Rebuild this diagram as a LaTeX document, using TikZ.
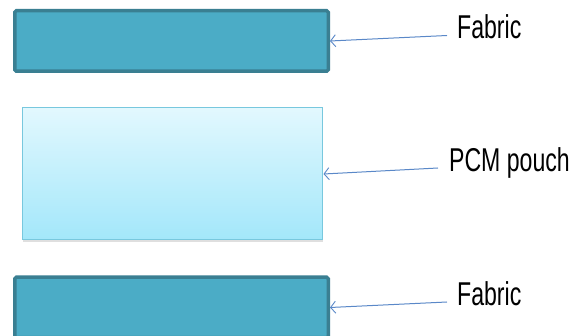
\documentclass[tikz,border=0pt]{standalone}
\usepackage{fontspec}
\setmainfont{Liberation Sans}
\usetikzlibrary{arrows.meta,shadows}
\definecolor{fabfill}{HTML}{4BACC6}
\definecolor{fabline}{HTML}{3A7F92}
\definecolor{pcmtop}{HTML}{E2F8FE}
\definecolor{pcmbot}{HTML}{A3E7FA}
\definecolor{pcmline}{HTML}{78C8DE}
\definecolor{arrcol}{HTML}{5A88C8}
\tikzset{
  fabricbox/.style={draw=fabline, fill=fabfill, line width=3.5pt, rounded corners=1.5pt, inner sep=0pt, minimum width=313.5pt, minimum height=60.5pt},
  pcmbox/.style={draw=pcmline, line width=1pt, top color=pcmtop, bottom color=pcmbot, inner sep=0pt, minimum width=300pt, minimum height=132pt, drop shadow={opacity=0.25, shadow xshift=0.8pt, shadow yshift=-1.6pt}},
  lbl/.style={inner sep=0pt, anchor=base west, font=\fontsize{33}{38}\selectfont, xscale=0.70},
  arr/.style={draw=arrcol, line width=1pt, -{Straight Barb[length=5pt,width=12pt,line width=0.9pt]}}
}
\begin{document}
\begin{tikzpicture}[x=1pt,y=-1pt]
\useasboundingbox[fill=white] (0,0) rectangle (579,336);
\node[fabricbox] (fab1) at (171.5,41) {};
\node[pcmbox] (pcm) at (172,174) {};
\node[fabricbox] (fab2) at (171.5,307.5) {};
\node[lbl] (t1) at (457,39) {Fabric};
\node[lbl] (t2) at (449,172) {PCM pouch};
\node[lbl] (t3) at (457,306) {Fabric};
\draw[arr] ([shift={(-10pt,3.5pt)}]t1.base west) -- (fab1.east);
\draw[arr] ([shift={(-11pt,4pt)}]t2.base west) -- ([xshift=1pt]pcm.east);
\draw[arr] ([shift={(-10pt,4pt)}]t3.base west) -- (fab2.east);
\end{tikzpicture}
\end{document}
